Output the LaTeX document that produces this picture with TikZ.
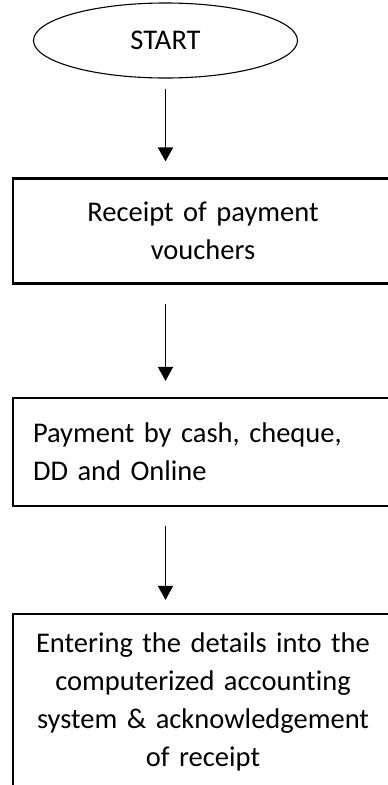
\documentclass[tikz,border=0pt]{standalone}
\usepackage{fontspec}
\setmainfont{Carlito}[Ligatures=CommonOff]
\usetikzlibrary{shapes.geometric,arrows.meta}

\begin{document}
\begin{tikzpicture}[x=1pt, y=1pt,
        font=\fontsize{28.5}{38}\selectfont,
        terminal/.style={draw, shape=ellipse, line width=1.1pt, minimum width=264pt, minimum height=75pt, inner sep=0pt},
        stepbox/.style={draw, shape=rectangle, line width=2.2pt, minimum width=380pt, inner xsep=18pt, text width=344pt, align=center},
        flow/.style={-{Triangle[length=14pt, width=15pt]}, line width=1.8pt}]
        \clip (0, 0) rectangle (388, -785);
        
        \node (start) at (165.5, -40.5) [terminal] {START};
        \node (recv) at (203, -231) [stepbox, minimum height=105pt] {Receipt of payment\\vouchers};
        \node (pay) at (203, -452) [stepbox, minimum height=108pt, align=left, text width=340pt, inner xsep=20pt] {Payment by cash, cheque,\\DD and Online};
        \node (enter) at (203, -702) [stepbox, minimum height=176pt] {Entering the details into the\\computerized accounting\\system \& acknowledgement\\of receipt};
        
        \draw[flow, shorten <=10pt, shorten >=16pt] (start.south) -- (start.south |- recv.north);
        \draw[flow, shorten <=19pt, shorten >=16pt] (recv.south -| start.south) -- (pay.north -| start.south);
        \draw[flow, shorten <=19pt, shorten >=13pt] (pay.south -| start.south) -- (enter.north -| start.south);
    \end{tikzpicture}
\end{document}
